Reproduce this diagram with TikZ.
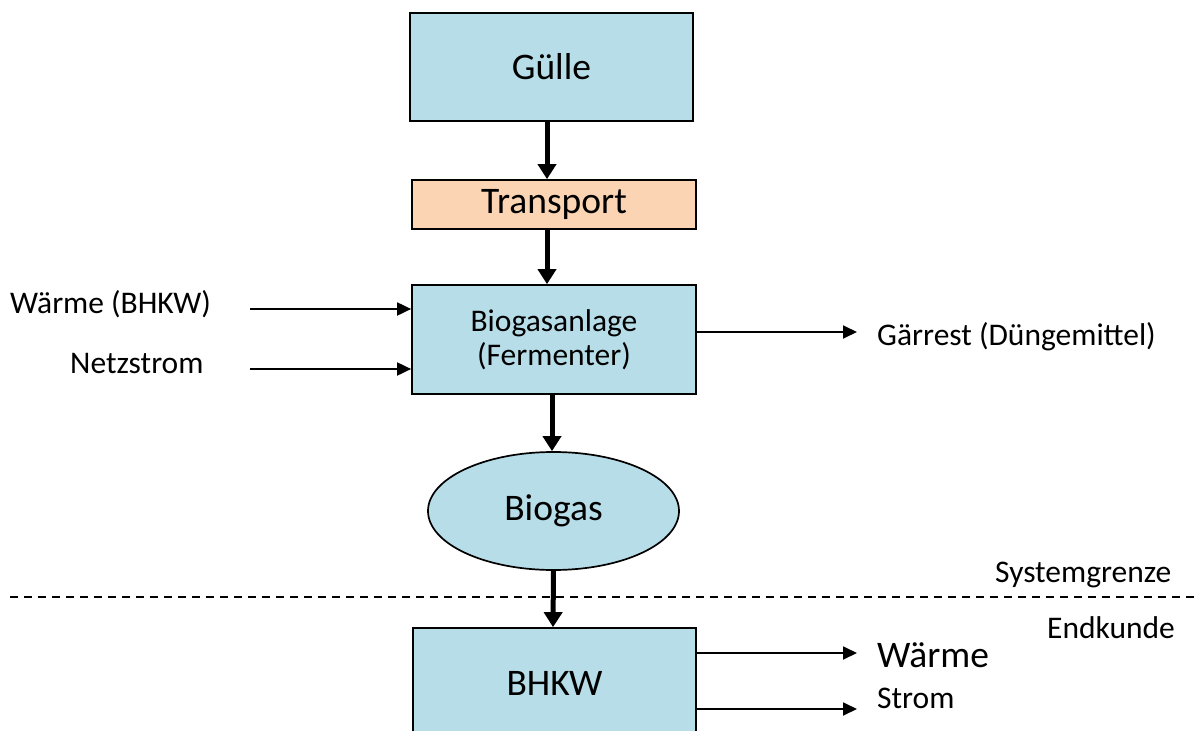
\documentclass[tikz,border=0pt]{standalone}
\usepackage{fontspec}
\setmainfont{Carlito}
\usetikzlibrary{arrows.meta,shapes.geometric}
\definecolor{boxblue}{HTML}{B7DDE8}
\definecolor{boxorange}{HTML}{FBD4B4}
\tikzset{
  big/.style={font=\fontsize{37.5}{44}\selectfont},
  small/.style={font=\fontsize{31.5}{34}\selectfont},
  procbox/.style={draw=black, line width=1.7pt, fill=boxblue, rectangle, inner sep=0pt},
  flow/.style={line width=5pt, -{Triangle[width=18pt,length=15pt]}},
  thinflow/.style={line width=1.8pt, -{Triangle[width=13pt,length=14pt]}},
  lbl/.style={small, inner sep=0pt, anchor=base west},
}
\begin{document}
\begin{tikzpicture}[x=1pt,y=-1pt]
\useasboundingbox (0,0) rectangle (1195,731);
\clip (0,0) rectangle (1195,731);
% nodes
\node[procbox, big, minimum width=283pt, minimum height=108pt] (g) at (551.5,67) {Gülle};
\node[procbox, big, fill=boxorange, minimum width=284pt, minimum height=49pt] (t) at (554,204.5) {Transport};
\node[procbox, small, align=center, minimum width=284pt, minimum height=109pt] (bga) at (554,339.5) {Biogasanlage\\(Fermenter)};
\node[procbox, big, ellipse, minimum width=251pt, minimum height=118pt] (bg) at (553.5,511) {Biogas};
\node[procbox, big, minimum width=283pt, minimum height=110pt] (bhkw) at (554.5,683) {BHKW};
% labels
\node[lbl] (lw) at (10,313) {Wärme (BHKW)};
\node[lbl] (ln) at (70,373) {Netzstrom};
\node[lbl] (lg) at (877,345) {Gärrest (Düngemittel)};
\node[lbl, big] (lwr) at (877,667) {Wärme};
\node[lbl] (ls) at (877,708) {Strom};
\node[lbl] (lsys) at (995,582) {Systemgrenze};
\node[lbl] (lend) at (1047,638) {Endkunde};
% free ends
\coordinate (cw) at (250,309);
\coordinate (cn) at (250,369);
\coordinate (cg) at (857,332);
\coordinate (cwr) at (857,653);
\coordinate (cs) at (857,709);
\coordinate (d1) at (10,597);
\coordinate (d2) at (1195,597);
% system boundary
\draw[line width=1.5pt, dash pattern=on 8pt off 6pt] (d1) -- (d2);
% main flow
\draw[flow] ([xshift=-4.5pt]g.south) -- ([xshift=-7pt]t.north);
\draw[flow] ([xshift=-7pt]t.south) -- ([xshift=-7pt]bga.north);
\draw[flow] ([xshift=-2pt]bga.south) -- ([xshift=-1.5pt]bg.north);
\draw[flow] (bg.south) -- ([xshift=-1.5pt]bhkw.north);
% side flows
\draw[thinflow] (cw) -- (cw -| bga.west);
\draw[thinflow] (cn) -- (cn -| bga.west);
\draw[thinflow] (cg -| bga.east) -- (cg);
\draw[thinflow] (cwr -| bhkw.east) -- (cwr);
\draw[thinflow] (cs -| bhkw.east) -- (cs);
\end{tikzpicture}
\end{document}
